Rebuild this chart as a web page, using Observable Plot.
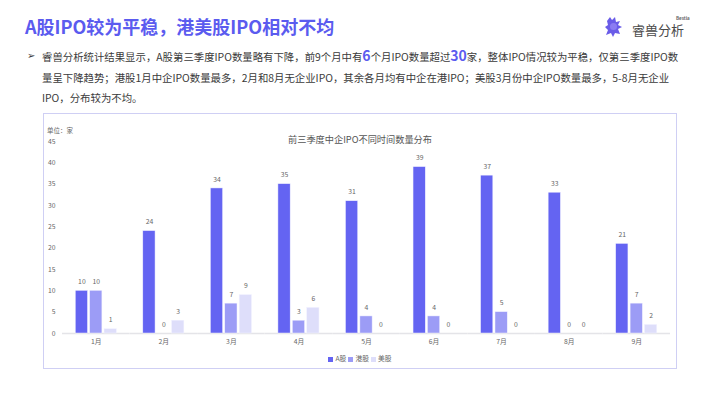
<!DOCTYPE html>
<html>
<head>
<meta charset="utf-8">
<script src="https://cdn.jsdelivr.net/npm/d3@7"></script>
<script src="https://cdn.jsdelivr.net/npm/@observablehq/plot@0.6"></script>
<style>
  html, body { margin: 0; padding: 0; background: #fff; }
  body { width: 710px; height: 399px; position: relative; overflow: hidden;
         font-family: "Noto Sans CJK SC", "Noto Sans", sans-serif; }
  #title { position: absolute; left: 25px; top: 13px; font-size: 18px; font-weight: bold;
           color: #5b5bef; white-space: nowrap; letter-spacing: 0px; }
  #body { position: absolute; left: 27px; top: 45px; font-size: 10.4px; color: #3a3a3a;
          line-height: 20.5px; white-space: nowrap; }
  #body .bullet { position: absolute; left: 0; top: 0; font-size: 10px; }
  #body .txt { margin-left: 15px; }
  #body b { color: #5b5bef; font-size: 14px; }
  #logo { position: absolute; left: 604px; top: 16px; width: 92px; height: 24px; }
  #logo svg { position: absolute; left: 0; top: 0; }
  #logo .name { position: absolute; left: 28px; top: 7px; font-size: 13px; line-height: 13px; color: #4a4a4a; }
  #logo .en { position: absolute; left: 72px; top: 0px; font-size: 4.5px; line-height: 5px; color: #666; font-weight: bold; }
  #frame { position: absolute; left: 43px; top: 113px; width: 632px; height: 254px;
           border: 1px solid #cfcff4; background: #fff; }
  #ctitle { position: absolute; left: 0; width: 632px; top: 18px; text-align: center;
            font-size: 9.2px; color: #555; }
  #unit { position: absolute; left: 3px; top: 11px; font-size: 6.5px; color: #666; }
  #chart { position: absolute; left: 0; top: 0; }
  #legend { position: absolute; left: 0; width: 632px; top: 239px; text-align: center;
            font-size: 6.8px; color: #666; }
  #legend span.sw { display: inline-block; width: 5px; height: 5px; margin-right: 2px; vertical-align: -0.5px; }
  #legend span.item { margin: 0 1px; }
</style>
</head>
<body>
<div id="title">A股IPO较为平稳，港美股IPO相对不均</div>
<div id="body"><span class="bullet">➢</span><div class="txt">睿兽分析统计结果显示，A股第三季度IPO数量略有下降，前9个月中有<b>6</b>个月IPO数量超过<b>30</b>家，整体IPO情况较为平稳，仅第三季度IPO数<br>量呈下降趋势；港股1月中企IPO数量最多，2月和8月无企业IPO，其余各月均有中企在港IPO；美股3月份中企IPO数量最多，5-8月无企业<br>IPO，分布较为不均。</div></div>
<div id="logo">
  <svg width="20" height="22" viewBox="0 0 20 22">
    <path d="M3 5 L6 1 L8 4 L11 1 L12 6 L16 5 L14 9 L18 11 L14 13 L16 18 L11 17 L9 21 L7 17 L2 19 L4 14 L1 11 L4 9 Z" fill="#6a5ce8"/>
    <circle cx="9.5" cy="10.5" r="3.5" fill="#8b7cf2"/>
  </svg>
  <span class="en">Bestla</span>
  <span class="name">睿兽分析</span>
</div>
<div id="frame">
  <div id="chart"></div>
  <div id="unit">单位：家</div>
  <div id="ctitle">前三季度中企IPO不同时间数量分布</div>
  <div id="legend"></div>
</div>
<script>
const months = ["1月","2月","3月","4月","5月","6月","7月","8月","9月"];
const seriesNames = ["A股","港股","美股"];
const aShares = [10, 24, 34, 35, 31, 39, 37, 33, 21];
const hkShares = [10, 0, 7, 3, 4, 4, 5, 0, 7];
const usShares = [1, 3, 9, 6, 0, 0, 0, 0, 2];
const yTicks = [0, 5, 10, 15, 20, 25, 30, 35, 40, 45];
const seriesColors = ["#6464f2", "#9c9cf6", "#dedefa"];

const valuesBySeries = [aShares, hkShares, usShares];
const rows = [];
months.forEach((m, i) => {
  seriesNames.forEach((s, j) => rows.push({month: m, series: s, value: valuesBySeries[j][i]}));
});

const chart = Plot.plot({
  width: 632,
  height: 237,
  marginTop: 27,
  marginBottom: 18,
  marginLeft: 18,
  marginRight: 6,
  style: {fontSize: "6.8px", fontFamily: "'Noto Sans CJK SC', sans-serif", color: "#666", background: "transparent"},
  fx: {domain: months, paddingInner: 0, paddingOuter: 0, round: false, label: null, tickSize: 0, tickPadding: 6, axis: "bottom"},
  x: {domain: seriesNames, axis: null, paddingInner: 0.15, paddingOuter: 0.92, round: false},
  y: {domain: [0, 45], ticks: yTicks, tickSize: 0, tickPadding: 7, label: null},
  color: {domain: seriesNames, range: seriesColors},
  marks: [
    Plot.ruleY([0], {stroke: "#e4e4e8", strokeWidth: 1.5}),
    Plot.barY(rows, {fx: "month", x: "series", y: "value", fill: "series", stroke: "#f2f2ff", strokeWidth: 0.5}),
    Plot.text(rows, {fx: "month", x: "series", y: "value", text: d => String(d.value), dy: -9, fill: "#666", fontSize: 6.8})
  ]
});
document.getElementById("chart").appendChild(chart);

const legend = document.getElementById("legend");
seriesNames.forEach((s, j) => {
  const item = document.createElement("span");
  item.className = "item";
  const sw = document.createElement("span");
  sw.className = "sw";
  sw.style.background = seriesColors[j];
  item.appendChild(sw);
  item.appendChild(document.createTextNode(s));
  legend.appendChild(item);
});
</script>
</body>
</html>
